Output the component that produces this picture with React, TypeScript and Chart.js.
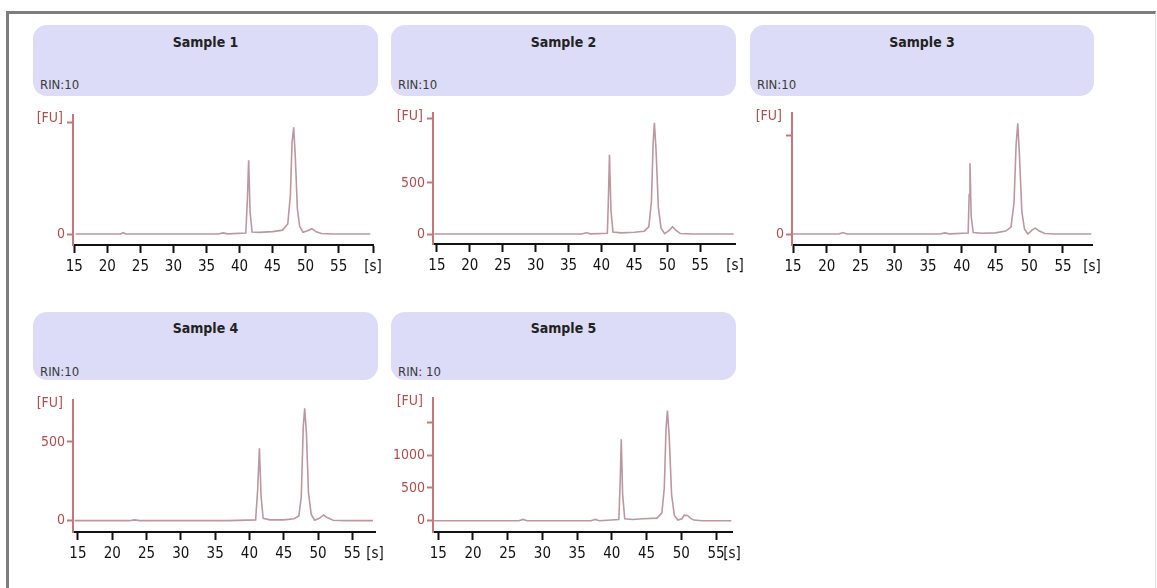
import React, { useEffect, useRef } from "react";
import { Chart, registerables } from "chart.js";

Chart.register(...registerables);

const FONT = '"DejaVu Sans Condensed", "Liberation Sans Narrow", "DejaVu Sans", sans-serif';

// ---------- data ----------
const sampleNames = ["Sample 1", "Sample 2", "Sample 3", "Sample 4", "Sample 5"];
const rinLabels = ["RIN:10", "RIN:10", "RIN:10", "RIN:10", "RIN: 10"];
const xTickValues = [15, 20, 25, 30, 35, 40, 45, 50, 55];
const xUnitLabel = "[s]";
const yUnitLabel = "[FU]";

const time1 = [15.2, 22.0, 22.4, 22.8, 36.8, 37.5, 38.2, 40.95, 41.2, 41.38, 41.6, 41.9, 43.0, 45.0, 46.5, 47.3, 47.7, 47.95, 48.2, 48.45, 48.75, 49.1, 49.6, 50.3, 50.95, 51.6, 52.4, 54.0, 59.8];
const fu1 = [0, 0, 12, 0, 0, 10, 2, 10, 320, 660, 200, 18, 15, 22, 35, 90, 350, 820, 955, 680, 230, 70, 15, 30, 48, 20, 5, 0, 0];

const time2 = [14.6, 22.0, 37.0, 37.7, 38.4, 40.9, 41.05, 41.22, 41.45, 41.75, 43.0, 45.0, 46.5, 47.2, 47.6, 47.85, 48.05, 48.3, 48.65, 49.05, 49.6, 50.3, 50.8, 51.3, 52.0, 54.0, 60.1];
const fu2 = [0, 0, 0, 12, 2, 8, 320, 775, 230, 20, 12, 18, 28, 70, 320, 880, 1088, 820, 260, 60, 5, 35, 72, 38, 5, 0, 0];

const time3 = [15.0, 21.8, 22.4, 23.0, 36.8, 37.5, 38.2, 40.95, 41.1, 41.22, 41.4, 41.7, 43.0, 45.0, 46.5, 47.3, 47.75, 48.05, 48.3, 48.55, 48.9, 49.3, 49.8, 50.4, 50.9, 51.5, 52.3, 54.0, 59.2];
const fu3 = [0, 0, 15, 0, 0, 12, 2, 10, 400, 717, 180, 15, 8, 12, 30, 70, 320, 900, 1121, 800, 230, 50, 0, 40, 60, 30, 5, 0, 0];

const time4 = [14.5, 22.5, 23.2, 24.0, 37.0, 40.9, 41.2, 41.45, 41.7, 42.0, 43.0, 45.0, 46.5, 47.2, 47.55, 47.85, 48.05, 48.3, 48.6, 49.0, 49.5, 50.2, 50.8, 51.4, 52.2, 54.0, 58.0];
const fu4 = [0, 0, 5, 0, 0, 5, 200, 460, 150, 15, 5, 5, 12, 30, 150, 600, 713, 560, 180, 40, 3, 15, 36, 18, 3, 0, 0];

const time5 = [14.4, 26.6, 27.2, 27.8, 37.0, 37.6, 38.2, 41.0, 41.2, 41.35, 41.55, 41.85, 43.0, 44.5, 46.5, 47.2, 47.55, 47.8, 48.0, 48.25, 48.6, 49.0, 49.5, 50.1, 50.4, 50.9, 51.3, 51.8, 53.0, 57.2];
const fu5 = [0, 0, 20, 0, 0, 20, 0, 20, 600, 1245, 400, 30, 20, 30, 40, 120, 500, 1400, 1682, 1300, 400, 80, 10, 30, 85, 80, 40, 10, 0, 0];

const yTicks1 = [0, 1000];
const yTickLabels1 = ["0", ""];
const yTicks2 = [0, 500, 1130];
const yTickLabels2 = ["0", "500", ""];
const yTicks3 = [0, 1000];
const yTickLabels3 = ["0", ""];
const yTicks4 = [0, 500];
const yTickLabels4 = ["0", "500"];
const yTicks5 = [0, 500, 1000, 1500];
const yTickLabels5 = ["0", "500", "1000", ""];

const xRanges = [[14.8, 60.2], [14.4, 60.3], [14.85, 59.3], [14.28, 58.3], [14.24, 57.3]];
const yRanges = [[-98, 1062], [-97, 1179], [-111, 1222], [-72, 764], [-172, 1868]];

const times = [time1, time2, time3, time4, time5];
const fus = [fu1, fu2, fu3, fu4, fu5];
const yTicksAll = [yTicks1, yTicks2, yTicks3, yTicks4, yTicks5];
const yLabelsAll = [yTickLabels1, yTickLabels2, yTickLabels3, yTickLabels4, yTickLabels5];

// ---------- layout ----------
// header box [x, y, w, h]; plot [axisX, top, right, bottom]
const headerBoxes = [[33, 25, 345, 71], [391, 25, 345, 71], [750, 25, 344, 71], [33, 312, 345, 68], [391, 312, 345, 68]];
const plotBoxes = [[73, 115, 373, 245], [433, 113, 735, 244], [792, 113, 1092, 245], [73, 400, 375, 532], [433, 398, 732, 532]];
const endTickShown = [true, false, false, false, false];

const YW = 42;
const XH = 40;
const PT = 10;
const PR = 16;

const TRACE = "#bc97a0";
const YAXIS = "#c47878";
const YLABEL = "#b04e4e";

function Panel({ idx }: { idx: number }) {
  const ref = useRef<HTMLCanvasElement | null>(null);
  const [hx, hy, hw, hh] = headerBoxes[idx];
  const [ax, top, right, bottom] = plotBoxes[idx];
  const cLeft = ax - YW;
  const cTop = top - PT;
  const cW = right - ax + YW + PR;
  const cH = bottom - top + PT + XH;

  useEffect(() => {
    if (!ref.current) return;
    const [xmin, xmax] = xRanges[idx];
    const [ymin, ymax] = yRanges[idx];
    const yt = yTicksAll[idx];
    const yl = yLabelsAll[idx];
    const showEnd = endTickShown[idx];
    const pts = times[idx].map((t, i) => ({ x: t, y: fus[idx][i] }));

    const fuPlugin = {
      id: "fuLabel",
      afterDraw(chart: any) {
        const { ctx, chartArea } = chart;
        ctx.save();
        ctx.font = `14px ${FONT}`;
        ctx.fillStyle = YLABEL;
        ctx.textAlign = "right";
        ctx.textBaseline = "middle";
        ctx.fillText(yUnitLabel, chartArea.left - 10, chartArea.top + 3);
        ctx.restore();
      },
    };

    const chart = new Chart(ref.current, {
      type: "line",
      data: {
        datasets: [
          {
            data: pts,
            borderColor: TRACE,
            borderWidth: 1.6,
            pointRadius: 0,
            tension: 0,
            fill: false,
          },
        ],
      },
      options: {
        animation: false,
        responsive: false,
        events: [],
        layout: { padding: { left: 0, top: PT, right: PR, bottom: 0 } },
        plugins: {
          legend: { display: false },
          tooltip: { enabled: false },
          title: { display: false },
        },
        scales: {
          x: {
            type: "linear",
            min: xmin,
            max: xmax,
            afterFit: (s: any) => {
              s.height = XH;
            },
            afterBuildTicks: (s: any) => {
              s.ticks = [...xTickValues, xmax].map((v) => ({ value: v }));
            },
            ticks: {
              autoSkip: false,
              maxRotation: 0,
              color: "#111",
              font: { family: FONT, size: 15 },
              padding: 5,
              callback: (v: any, i: number) => (i === xTickValues.length ? xUnitLabel : String(v)),
            },
            grid: {
              drawOnChartArea: false,
              drawTicks: true,
              tickLength: 8,
              tickWidth: 2,
              tickColor: (c: any) =>
                c.index === xTickValues.length && !showEnd ? "rgba(0,0,0,0)" : "#111",
            },
            border: { display: true, color: "#111", width: 2 },
          },
          y: {
            type: "linear",
            min: ymin,
            max: ymax,
            afterFit: (s: any) => {
              s.width = YW;
            },
            afterBuildTicks: (s: any) => {
              s.ticks = yt.map((v) => ({ value: v }));
            },
            ticks: {
              color: YLABEL,
              font: { family: FONT, size: 14 },
              padding: 2,
              callback: (_v: any, i: number) => yl[i],
            },
            grid: {
              drawOnChartArea: false,
              drawTicks: true,
              tickLength: 6,
              tickWidth: 2,
              tickColor: YAXIS,
            },
            border: { display: true, color: YAXIS, width: 2 },
          },
        },
      },
      plugins: [fuPlugin],
    } as any);
    return () => chart.destroy();
  }, [idx]);

  return (
    <>
      <div
        style={{
          position: "absolute",
          left: hx,
          top: hy,
          width: hw,
          height: hh,
          background: "#dcdcf8",
          borderRadius: 14,
        }}
      >
        <div
          style={{
            position: "absolute",
            left: 0,
            right: 0,
            top: idx < 3 ? 9 : 8,
            textAlign: "center",
            fontFamily: FONT,
            fontWeight: "bold",
            fontSize: 14,
            color: "#222",
            lineHeight: "17px",
          }}
        >
          {sampleNames[idx]}
        </div>
        <div
          style={{
            position: "absolute",
            left: 7,
            bottom: idx < 3 ? 4 : 1,
            fontFamily: FONT,
            fontSize: 13,
            color: "#3a3a3a",
            lineHeight: "15px",
          }}
        >
          {rinLabels[idx]}
        </div>
      </div>
      <canvas
        ref={ref}
        width={cW}
        height={cH}
        style={{ position: "absolute", left: cLeft, top: cTop, width: cW, height: cH }}
      />
    </>
  );
}

export default function App() {
  return (
    <div
      style={{
        position: "fixed",
        left: 0,
        top: 0,
        width: 1157,
        height: 588,
        overflow: "hidden",
        background: "#fff",
      }}
    >
      <div
        style={{
          position: "absolute",
          left: 6,
          top: 11,
          width: 1146,
          height: 640,
          borderLeft: "3px solid #7d7d7d",
          borderTop: "3px solid #7d7d7d",
          borderRight: "1px solid #e2e2e2",
        }}
      />
      {sampleNames.map((_, i) => (
        <Panel key={i} idx={i} />
      ))}
    </div>
  );
}
